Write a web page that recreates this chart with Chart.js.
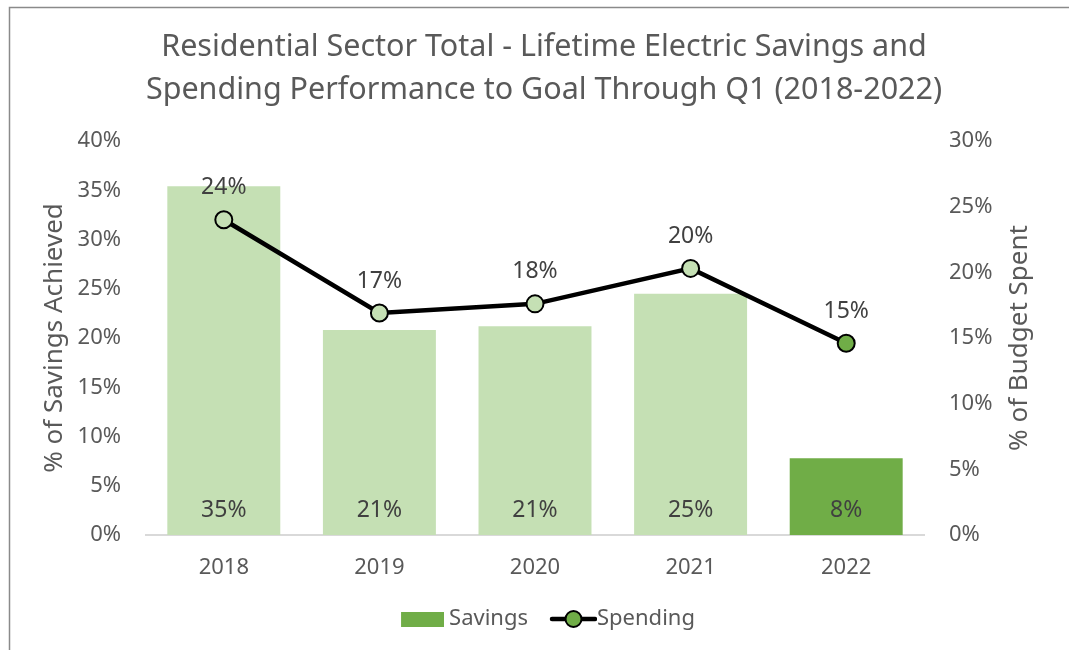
<!DOCTYPE html>
<html>
<head>
<meta charset="utf-8">
<script src="https://cdn.jsdelivr.net/npm/chart.js@4"></script>
<style>
  html, body { margin: 0; padding: 0; background: #fff; }
  canvas { display: block; }
</style>
</head>
<body>
<canvas id="chart" width="1069" height="650"></canvas>
<script>
// ===== DATA =====
const years = ['2018', '2019', '2020', '2021', '2022'];
const savingsPct = [35.4, 20.8, 21.2, 24.5, 7.8];
const spendingPct = [24.0, 16.9, 17.6, 20.3, 14.6];
const leftTicksMax = 40;
const rightTicksMax = 30;

const titleLines = [
    'Residential Sector Total - Lifetime Electric Savings and',
    'Spending Performance to Goal Through Q1 (2018-2022)'
];
const leftAxisTitle = '% of Savings Achieved';
const rightAxisTitle = '% of Budget Spent';

// colors
const lightGreen = '#C5E0B4';
const darkGreen = '#70AD47';
const textGray = '#595959';
const labelGray = '#404040';
const FONT = '"Noto Sans", sans-serif';

const barColors = years.map((y, i) => i === years.length - 1 ? darkGreen : lightGreen);

// legend symbols (drawn into small canvases, offset so the gap to the text is tight)
function makeBoxSymbol() {
    const c = document.createElement('canvas');
    c.width = 60; c.height = 15;
    const g = c.getContext('2d');
    g.fillStyle = darkGreen;
    g.fillRect(17, 0, 43, 15);
    return c;
}
function makeLineSymbol() {
    const c = document.createElement('canvas');
    c.width = 70; c.height = 22;
    const g = c.getContext('2d');
    g.strokeStyle = '#000';
    g.lineWidth = 4.5;
    g.lineCap = 'round';
    g.beginPath(); g.moveTo(25, 11); g.lineTo(68, 11); g.stroke();
    g.beginPath(); g.arc(46.5, 11, 8, 0, Math.PI * 2);
    g.fillStyle = darkGreen; g.fill();
    g.lineWidth = 2; g.stroke();
    return c;
}

// white background, frame lines on top and left
const framePlugin = {
    id: 'frame',
    beforeDraw(chart) {
        const ctx = chart.ctx;
        ctx.save();
        ctx.fillStyle = '#fff';
        ctx.fillRect(0, 0, chart.width, chart.height);
        ctx.strokeStyle = '#8a8a8a';
        ctx.lineWidth = 1.5;
        ctx.beginPath();
        ctx.moveTo(9.5, chart.height);
        ctx.lineTo(9.5, 7.5);
        ctx.lineTo(chart.width, 7.5);
        ctx.stroke();
        ctx.restore();
    }
};

// chart title (slightly right of canvas centre, as in the original)
// and right axis title reading bottom-to-top like the left one
const titlesPlugin = {
    id: 'titles',
    afterDraw(chart) {
        const ctx = chart.ctx;
        const area = chart.chartArea;
        ctx.save();
        ctx.fillStyle = textGray;
        ctx.textAlign = 'center';
        ctx.textBaseline = 'middle';
        ctx.font = '30.5px ' + FONT;
        ctx.fillText(titleLines[0], 544, 47);
        ctx.fillText(titleLines[1], 544, 90);

        ctx.translate(1020, (area.top + area.bottom) / 2);
        ctx.rotate(-Math.PI / 2);
        ctx.font = '26px ' + FONT;
        ctx.fillText(rightAxisTitle, 0, 0);
        ctx.restore();
    }
};

// value labels: bars at bottom, line above points
const valueLabels = {
    id: 'valueLabels',
    afterDatasetsDraw(chart) {
        const ctx = chart.ctx;
        ctx.save();
        ctx.font = '23px ' + FONT;
        ctx.fillStyle = labelGray;
        ctx.textAlign = 'center';
        ctx.textBaseline = 'middle';
        const bottom = chart.chartArea.bottom;
        chart.getDatasetMeta(0).data.forEach((bar, i) => {
            ctx.fillText(Math.round(savingsPct[i]) + '%', bar.x, bottom - 25);
        });
        chart.getDatasetMeta(1).data.forEach((pt, i) => {
            ctx.fillText(Math.round(spendingPct[i]) + '%', pt.x, pt.y - 32);
        });
        ctx.restore();
    }
};

const ctx = document.getElementById('chart').getContext('2d');
new Chart(ctx, {
    data: {
        labels: years,
        datasets: [
            {
                type: 'bar',
                label: 'Savings',
                data: savingsPct,
                backgroundColor: barColors,
                yAxisID: 'y',
                categoryPercentage: 1,
                barPercentage: 0.726,
                order: 2
            },
            {
                type: 'line',
                label: 'Spending',
                data: spendingPct,
                borderColor: '#000',
                borderWidth: 4.5,
                pointBackgroundColor: barColors,
                pointBorderColor: '#000',
                pointBorderWidth: 2,
                pointRadius: 8.5,
                tension: 0,
                yAxisID: 'y1',
                order: 1
            }
        ]
    },
    options: {
        responsive: false,
        animation: false,
        layout: { padding: { left: 35, right: 19, top: 141, bottom: 10 } },
        plugins: {
            title: { display: false },
            legend: {
                position: 'bottom',
                labels: {
                    color: textGray,
                    font: { family: FONT, size: 22 },
                    usePointStyle: true,
                    boxHeight: 22,
                    pointStyleWidth: 48,
                    padding: 10,
                    generateLabels: () => [
                        { text: 'Savings', pointStyle: makeBoxSymbol(), fillStyle: darkGreen, strokeStyle: darkGreen, lineWidth: 0, datasetIndex: 0, fontColor: textGray },
                        { text: 'Spending', pointStyle: makeLineSymbol(), fillStyle: darkGreen, strokeStyle: '#000', lineWidth: 0, datasetIndex: 1, fontColor: textGray }
                    ]
                }
            },
            tooltip: { enabled: false }
        },
        scales: {
            x: {
                grid: { display: false, drawTicks: false },
                border: { display: true, color: '#D9D9D9', width: 2 },
                ticks: { color: textGray, font: { family: FONT, size: 22 }, padding: 20 },
                afterFit: (scale) => { scale.height = 63; }
            },
            y: {
                position: 'left',
                min: 0,
                max: leftTicksMax,
                grid: { display: false, drawTicks: false },
                border: { display: false },
                ticks: {
                    stepSize: 5,
                    color: textGray,
                    font: { family: FONT, size: 22 },
                    padding: 25,
                    callback: (v) => v + '%'
                },
                title: {
                    display: true,
                    text: leftAxisTitle,
                    color: textGray,
                    font: { family: FONT, size: 26 },
                    padding: 4
                },
                afterFit: (scale) => { scale.width = 111; }
            },
            y1: {
                position: 'right',
                min: 0,
                max: rightTicksMax,
                grid: { display: false, drawTicks: false },
                border: { display: false },
                ticks: {
                    stepSize: 5,
                    color: textGray,
                    font: { family: FONT, size: 22 },
                    padding: 25,
                    callback: (v) => v + '%'
                },
                afterFit: (scale) => { scale.width = 126; }
            }
        }
    },
    plugins: [framePlugin, valueLabels, titlesPlugin]
});
</script>
</body>
</html>
